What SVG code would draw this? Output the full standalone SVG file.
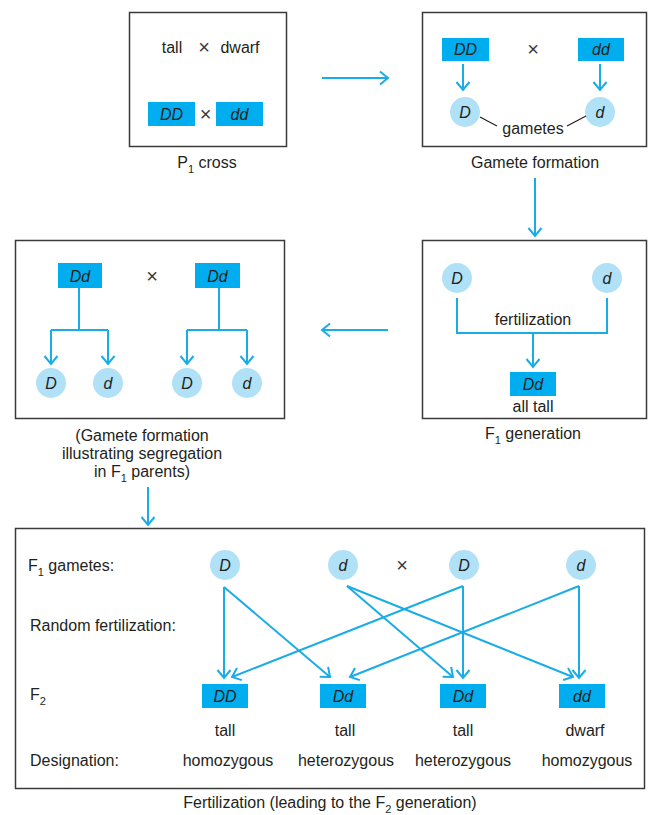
<svg xmlns="http://www.w3.org/2000/svg" width="649" height="815" viewBox="0 0 649 815">
<style>
text{font-family:"Liberation Sans",Arial,sans-serif;font-size:16px;fill:#231f20}
.c{text-anchor:middle}
.i{font-style:italic}
.x{font-size:20px;fill:#3a3a3a}
.frame{fill:#fff;stroke:#3a3a3a;stroke-width:1.5}
.g{fill:#00adee}
.gam{fill:#b1e1f7}
.ln{fill:none;stroke:#1aace6;stroke-width:2}
.ar{fill:none;stroke:#1aace6;stroke-width:2;marker-end:url(#ah)}
.thin{fill:none;stroke:#231f20;stroke-width:1.2}
.sub{font-size:11px}
</style>
<defs>
<marker id="ah" viewBox="-10 -8 12 16" markerWidth="12" markerHeight="16" refX="0" refY="0" orient="auto" markerUnits="userSpaceOnUse">
<path d="M-8,-6.5 L0,0 L-8,6.5" fill="none" stroke="#1aace6" stroke-width="2"/>
</marker>
</defs>
<rect width="649" height="815" fill="#fff"/>

<g id="p1cross">
<rect class="frame" x="129.5" y="12.5" width="157" height="134"/>
<text class="c" x="172" y="53">tall</text>
<text class="c x" x="204" y="54">×</text>
<text class="c" x="240" y="53">dwarf</text>
<rect class="g" x="148" y="102" width="47" height="24"/>
<text class="c i" x="171.5" y="120">DD</text>
<text class="c x" x="205.5" y="121">×</text>
<rect class="g" x="216" y="102" width="47" height="24"/>
<text class="c i" x="239.5" y="120">dd</text>
<text class="c" x="207" y="168">P<tspan class="sub" dy="5">1</tspan><tspan dy="-5"> cross</tspan></text>
</g>

<g id="gameteformation">
<rect class="frame" x="422.5" y="12.5" width="224" height="134"/>
<rect class="g" x="442" y="38" width="47" height="23"/>
<text class="c i" x="465.5" y="55">DD</text>
<text class="c x" x="533" y="56">×</text>
<rect class="g" x="578" y="38" width="46" height="23"/>
<text class="c i" x="601" y="55">dd</text>
<circle class="gam" cx="465" cy="112" r="15"/>
<text class="c i" x="465" y="118">D</text>
<circle class="gam" cx="600" cy="112" r="15"/>
<text class="c i" x="600" y="118">d</text>
<line class="thin" x1="480" y1="117" x2="497" y2="126"/>
<line class="thin" x1="567" y1="126" x2="586" y2="116"/>
<text class="c" x="533" y="134">gametes</text>
<text class="c" x="535" y="168">Gamete formation</text>
</g>

<g id="f1generation">
<rect class="frame" x="422.5" y="240.5" width="224" height="178"/>
<circle class="gam" cx="457" cy="278" r="15"/>
<text class="c i" x="457" y="284">D</text>
<circle class="gam" cx="607" cy="278" r="15"/>
<text class="c i" x="607" y="284">d</text>
<text class="c" x="533" y="325">fertilization</text>
<rect class="g" x="510" y="372" width="46" height="24"/>
<text class="c i" x="533" y="390">Dd</text>
<text class="c" x="533" y="412">all tall</text>
<text class="c" x="533" y="439">F<tspan class="sub" dy="5">1</tspan><tspan dy="-5"> generation</tspan></text>
</g>

<g id="f1parents">
<rect class="frame" x="15.5" y="240.5" width="269" height="178"/>
<rect class="g" x="58" y="263" width="44" height="25"/>
<text class="c i" x="80" y="282">Dd</text>
<text class="c x" x="152" y="283">×</text>
<rect class="g" x="195" y="263" width="45" height="25"/>
<text class="c i" x="217.5" y="282">Dd</text>
<circle class="gam" cx="51" cy="383" r="15"/>
<text class="c i" x="51" y="389">D</text>
<circle class="gam" cx="108" cy="383" r="15"/>
<text class="c i" x="108" y="389">d</text>
<circle class="gam" cx="187" cy="383" r="15"/>
<text class="c i" x="187" y="389">D</text>
<circle class="gam" cx="247" cy="383" r="15"/>
<text class="c i" x="247" y="389">d</text>
<text class="c" x="142" y="441">(Gamete formation</text>
<text class="c" x="142" y="459">illustrating segregation</text>
<text class="c" x="142" y="477">in F<tspan class="sub" dy="5">1</tspan><tspan dy="-5"> parents)</tspan></text>
</g>

<g id="f2">
<rect class="frame" x="15.5" y="528.5" width="629" height="260"/>
<text x="28" y="571">F<tspan class="sub" dy="5">1</tspan><tspan dy="-5"> gametes:</tspan></text>
<text x="30" y="631">Random fertilization:</text>
<text x="30" y="700">F<tspan class="sub" dy="5">2</tspan></text>
<text x="30" y="766">Designation:</text>
<circle class="gam" cx="225" cy="565" r="15"/>
<text class="c i" x="225" y="571">D</text>
<circle class="gam" cx="343" cy="565" r="15"/>
<text class="c i" x="343" y="571">d</text>
<text class="c x" x="402" y="572">×</text>
<circle class="gam" cx="464" cy="565" r="15"/>
<text class="c i" x="464" y="571">D</text>
<circle class="gam" cx="581" cy="565" r="15"/>
<text class="c i" x="581" y="571">d</text>
<rect class="g" x="202" y="684" width="46" height="24"/>
<text class="c i" x="225" y="702">DD</text>
<rect class="g" x="320" y="684" width="46" height="24"/>
<text class="c i" x="343" y="702">Dd</text>
<rect class="g" x="440" y="684" width="46" height="24"/>
<text class="c i" x="463" y="702">Dd</text>
<rect class="g" x="559" y="684" width="46" height="24"/>
<text class="c i" x="582" y="702">dd</text>
<text class="c" x="225" y="736">tall</text>
<text class="c" x="345" y="736">tall</text>
<text class="c" x="463" y="736">tall</text>
<text class="c" x="585" y="736">dwarf</text>
<text class="c" x="228" y="766">homozygous</text>
<text class="c" x="346" y="766">heterozygous</text>
<text class="c" x="463" y="766">heterozygous</text>
<text class="c" x="587" y="766">homozygous</text>
<text class="c" x="330" y="808">Fertilization (leading to the F<tspan class="sub" dy="5">2</tspan><tspan dy="-5"> generation)</tspan></text>
</g>

<g id="connectors">
<line class="ar" x1="322" y1="78" x2="388" y2="78"/>
<line class="ar" x1="463" y1="64" x2="463" y2="90"/>
<line class="ar" x1="600" y1="64" x2="600" y2="90"/>
<line class="ar" x1="535" y1="178" x2="535" y2="236"/>
<path class="ln" d="M457,298 V333 H607 V298"/>
<line class="ar" x1="533" y1="333" x2="533" y2="367"/>
<line class="ar" x1="388" y1="330" x2="322" y2="330"/>
<path class="ln" d="M79,288 V330 M51,330 H108"/>
<line class="ar" x1="51" y1="330" x2="51" y2="364"/>
<line class="ar" x1="108" y1="330" x2="108" y2="364"/>
<path class="ln" d="M219,288 V330 M187,330 H247"/>
<line class="ar" x1="187" y1="330" x2="187" y2="364"/>
<line class="ar" x1="247" y1="330" x2="247" y2="364"/>
<line class="ar" x1="148" y1="487" x2="148" y2="525"/>
<line class="ar" x1="224" y1="587" x2="224" y2="678"/>
<line class="ar" x1="224" y1="587" x2="330" y2="677"/>
<line class="ar" x1="347" y1="586" x2="453" y2="677"/>
<line class="ar" x1="347" y1="586" x2="573" y2="677"/>
<line class="ar" x1="463" y1="586" x2="232" y2="677"/>
<line class="ar" x1="463" y1="586" x2="463" y2="678"/>
<line class="ar" x1="579" y1="586" x2="350" y2="677"/>
<line class="ar" x1="579" y1="586" x2="579" y2="678"/>
</g>
</svg>
